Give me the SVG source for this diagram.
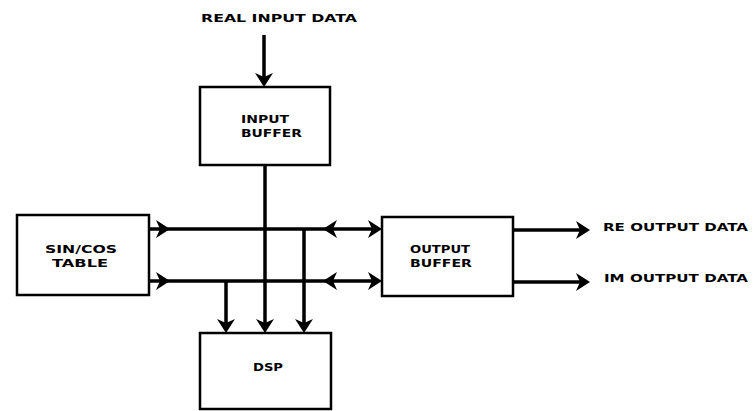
<svg xmlns="http://www.w3.org/2000/svg" width="756" height="411" viewBox="0 0 756 411">
<style>
.box{fill:#fff;stroke:#000;stroke-width:2.5}
.wire{stroke:#000;stroke-width:3.5;fill:none}
.t{font-family:"DejaVu Sans",sans-serif;font-weight:bold;font-size:11px;fill:#000}
</style>
<defs>
<path id="ah" d="M0,0 L-14,-9 L-10,0 L-14,9 Z" fill="#000"/>
</defs>
<rect width="756" height="411" fill="#fff"/>
<g id="connectors">
<line class="wire" x1="264" y1="35" x2="264" y2="80"/>
<use href="#ah" transform="translate(264,87) rotate(90)"/>
<line class="wire" x1="149" y1="229" x2="376" y2="229"/>
<line class="wire" x1="149" y1="281" x2="376" y2="281"/>
<use href="#ah" transform="translate(170,229)"/>
<use href="#ah" transform="translate(170,281)"/>
<use href="#ah" transform="translate(323,229) rotate(180)"/>
<use href="#ah" transform="translate(323,281) rotate(180)"/>
<use href="#ah" transform="translate(382,229)"/>
<use href="#ah" transform="translate(382,281)"/>
<line class="wire" x1="265" y1="165" x2="265" y2="326"/>
<line class="wire" x1="226" y1="281" x2="226" y2="326"/>
<line class="wire" x1="304" y1="229" x2="304" y2="326"/>
<use href="#ah" transform="translate(226,333) rotate(90)"/>
<use href="#ah" transform="translate(265,333) rotate(90)"/>
<use href="#ah" transform="translate(304,333) rotate(90)"/>
<line class="wire" x1="513" y1="230" x2="584" y2="230"/>
<line class="wire" x1="513" y1="282" x2="584" y2="282"/>
<use href="#ah" transform="translate(590,230)"/>
<use href="#ah" transform="translate(590,282)"/>
</g>
<g id="input-buffer">
<rect class="box" x="200" y="87" width="130" height="78"/>
<text class="t" x="241" y="123" textLength="48" lengthAdjust="spacingAndGlyphs">INPUT</text>
<text class="t" x="241" y="137" textLength="61" lengthAdjust="spacingAndGlyphs">BUFFER</text>
</g>
<g id="sincos-table">
<rect class="box" x="17" y="215" width="132" height="80"/>
<text class="t" x="45" y="253" textLength="72" lengthAdjust="spacingAndGlyphs">SIN/COS</text>
<text class="t" x="52" y="267" textLength="56" lengthAdjust="spacingAndGlyphs">TABLE</text>
</g>
<g id="output-buffer">
<rect class="box" x="382" y="217" width="131" height="79"/>
<text class="t" x="410" y="253" textLength="60" lengthAdjust="spacingAndGlyphs">OUTPUT</text>
<text class="t" x="410" y="267" textLength="62" lengthAdjust="spacingAndGlyphs">BUFFER</text>
</g>
<g id="dsp">
<rect class="box" x="200" y="333" width="131" height="76"/>
<text class="t" x="253" y="371" textLength="30" lengthAdjust="spacingAndGlyphs">DSP</text>
</g>
<g id="labels">
<text class="t" x="201" y="22" textLength="156" lengthAdjust="spacingAndGlyphs">REAL INPUT DATA</text>
<text class="t" x="603" y="231" textLength="145" lengthAdjust="spacingAndGlyphs">RE OUTPUT DATA</text>
<text class="t" x="604" y="282" textLength="144" lengthAdjust="spacingAndGlyphs">IM OUTPUT DATA</text>
</g>
</svg>
